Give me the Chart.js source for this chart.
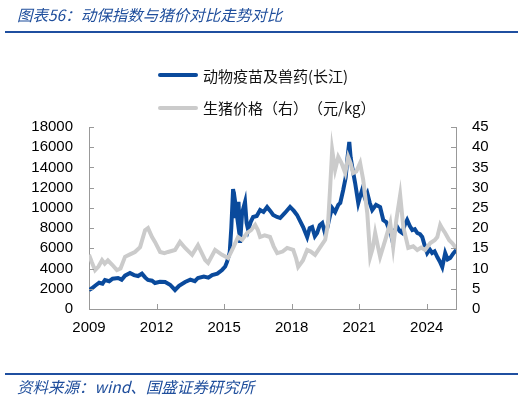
<!DOCTYPE html>
<html>
<head>
<meta charset="utf-8">
<script src="https://cdn.jsdelivr.net/npm/chart.js@4"></script>
<style>
  html, body { margin: 0; padding: 0; background: #fff; }
  #wrap { position: relative; width: 525px; height: 399px; overflow: hidden; }
  #myChart { position: absolute; left: 0; top: 0; }
  .cap { position: absolute; left: 17px; font-family: "Noto Sans CJK SC", sans-serif; font-style: italic; font-size: 15.5px; color: #1f4e9c; white-space: nowrap; }
  .rule { position: absolute; left: 5px; width: 513px; background: #1f4fa0; }
  #legend { position: absolute; left: 158px; top: 64px; font-family: "Noto Sans CJK SC", sans-serif; font-size: 15px; color: #111; text-spacing-trim: space-all; }
  #legend div { display: flex; align-items: center; height: 22px; margin-bottom: 10.5px; white-space: nowrap; }
  #legend span.swatch { display: inline-block; width: 40px; height: 4px; margin-right: 5px; border-radius: 2px; }
</style>
</head>
<body>
<div id="wrap">
  <canvas id="myChart" width="525" height="399"></canvas>
  <div class="cap" style="top:3px">图表56：动保指数与猪价对比走势对比</div>
  <div class="rule" style="top:31px;height:2px"></div>
  <div id="legend"></div>
  <div class="rule" style="top:373px;height:2px"></div>
  <div class="cap" style="top:375px">资料来源：wind、国盛证券研究所</div>
</div>
<script>
const xTicks = [2009, 2012, 2015, 2018, 2021, 2024];
const leftTicks = [0, 2000, 4000, 6000, 8000, 10000, 12000, 14000, 16000, 18000];
const rightTicks = [0, 5, 10, 15, 20, 25, 30, 35, 40, 45];

const blueLabel = "动物疫苗及兽药(长江)";
const blueYears = [
  2009.00, 2009.13, 2009.27, 2009.45, 2009.60, 2009.71, 2009.90, 2010.05, 2010.29, 2010.45,
  2010.60, 2010.82, 2011.00, 2011.18, 2011.35, 2011.50, 2011.62, 2011.80, 2011.93, 2012.15,
  2012.38, 2012.60, 2012.82, 2013.00, 2013.27, 2013.50, 2013.70, 2013.84, 2014.10, 2014.30,
  2014.47, 2014.70, 2014.91, 2015.05, 2015.13, 2015.25, 2015.32, 2015.40, 2015.47, 2015.52,
  2015.58, 2015.64, 2015.71, 2015.80, 2015.93, 2016.00, 2016.07, 2016.18, 2016.29, 2016.45,
  2016.60, 2016.75, 2016.91, 2017.05, 2017.18, 2017.35, 2017.49, 2017.70, 2017.93, 2018.10,
  2018.24, 2018.40, 2018.51, 2018.69, 2018.80, 2018.91, 2019.03, 2019.13, 2019.25, 2019.36,
  2019.47, 2019.58, 2019.70, 2019.80, 2019.93, 2020.07, 2020.16, 2020.29, 2020.40, 2020.47,
  2020.56, 2020.62, 2020.69, 2020.82, 2020.96, 2021.05, 2021.13, 2021.25, 2021.36, 2021.47,
  2021.58, 2021.75, 2021.93, 2022.07, 2022.20, 2022.29, 2022.40, 2022.47, 2022.58, 2022.69,
  2022.80, 2022.91, 2023.02, 2023.13, 2023.25, 2023.36, 2023.47, 2023.58, 2023.70, 2023.80,
  2023.92, 2024.02, 2024.13, 2024.24, 2024.35, 2024.47, 2024.58, 2024.69, 2024.82, 2024.93,
  2025.04, 2025.18, 2025.31
];
const blueValues = [
  1880, 2050, 2300, 2600, 2500, 2870, 2750, 3000, 3070, 2900,
  3300, 3560, 3350, 3260, 3500, 3100, 2870, 2800, 2570, 2700,
  2670, 2400, 1880, 2300, 2670, 2900, 2750, 3070, 3200, 3100,
  3360, 3500, 3860, 4200, 4650, 5600, 8000, 11870, 9000, 10090,
  9100, 10600, 6530, 9500, 10580, 8500, 7810, 8600, 9100, 9200,
  9790, 9600, 10090, 9700, 9300, 9100, 9000, 9500, 10090, 9700,
  9300, 8600, 8110, 7120, 8000, 8110, 7200, 7520, 8300, 8500,
  7600, 8000, 9200, 9990, 9590, 10300, 10480, 11770, 13000, 14740,
  16520, 15000, 14040, 12460, 10480, 11200, 11770, 11000, 11470, 10500,
  9790, 10300, 10090, 8800, 8600, 8110, 7500, 6820, 7800, 8110,
  7700, 7520, 8300, 8800, 8200, 7810, 7900, 7520, 7400, 7120,
  6200, 5540, 5900, 5540, 5700, 5140, 4700, 4150, 5540, 4900,
  5040, 5500, 5830
];

const pigLabel = "生猪价格（右）（元/kg）";
const pigYears = [
  2009.00, 2009.13, 2009.27, 2009.42, 2009.58, 2009.70, 2009.84, 2010.02, 2010.24, 2010.40,
  2010.60, 2010.82, 2011.04, 2011.27, 2011.49, 2011.62, 2011.80, 2011.93, 2012.16, 2012.35,
  2012.51, 2012.82, 2013.04, 2013.27, 2013.58, 2013.84, 2014.16, 2014.29, 2014.60, 2014.91,
  2015.18, 2015.40, 2015.62, 2015.80, 2016.02, 2016.20, 2016.38, 2016.50, 2016.60, 2016.80,
  2017.04, 2017.20, 2017.36, 2017.60, 2017.80, 2018.07, 2018.20, 2018.29, 2018.50, 2018.69,
  2018.85, 2019.04, 2019.27, 2019.49, 2019.62, 2019.71, 2019.80, 2019.93, 2020.07, 2020.22,
  2020.38, 2020.51, 2020.62, 2020.73, 2020.87, 2021.04, 2021.18, 2021.36, 2021.49, 2021.60,
  2021.71, 2021.85, 2021.93, 2022.16, 2022.38, 2022.51, 2022.65, 2022.82, 2022.96, 2023.18,
  2023.40, 2023.58, 2023.75, 2023.93, 2024.16, 2024.35, 2024.47, 2024.60, 2024.70, 2024.82,
  2025.00, 2025.13, 2025.30
];
const pigValues = [
  13.4, 11.5, 9.6, 10.5, 12.1, 11.2, 12.0, 11.0, 9.6, 10.0,
  12.9, 13.5, 14.1, 15.3, 19.5, 20.0, 17.8, 16.6, 14.1, 13.8,
  14.1, 14.6, 16.6, 15.1, 13.4, 15.8, 12.1, 11.4, 14.6, 13.4,
  12.6, 15.1, 17.8, 17.1, 18.8, 19.5, 20.8, 19.5, 17.8, 18.2,
  17.8, 15.5, 13.8, 14.2, 15.1, 14.6, 12.5, 10.4, 12.0, 14.6,
  14.2, 13.4, 15.3, 17.1, 21.3, 30.0, 39.3, 34.4, 37.6, 36.0,
  33.6, 37.6, 36.0, 33.6, 34.0, 36.1, 31.9, 23.7, 12.9, 15.0,
  18.8, 15.0, 12.9, 17.1, 21.3, 15.3, 22.0, 28.2, 20.3, 15.1,
  15.5, 14.6, 15.2, 14.6, 16.3, 17.0, 17.8, 20.8, 19.8, 18.8,
  17.0, 16.3, 15.1
];

const blueColor = "#0a4a9c";
const grayColor = "#cbcbcb";
const axisColor = "#999999";
const tickFont = { family: "Liberation Sans", size: 15 };

const toPoints = (xs, ys) => xs.map((x, i) => ({ x: x, y: ys[i] }));

// tick marks pointing into the plot, like the original
const innerTicks = {
  id: "innerTicks",
  afterDraw(chart) {
    const { ctx, chartArea: a, scales } = chart;
    ctx.save();
    ctx.strokeStyle = axisColor;
    ctx.lineWidth = 1;
    ctx.beginPath();
    scales.y.ticks.forEach((t) => {
      const py = Math.round(scales.y.getPixelForValue(t.value)) + 0.5;
      ctx.moveTo(a.left, py);
      ctx.lineTo(a.left + 5, py);
    });
    scales.y1.ticks.forEach((t) => {
      const py = Math.round(scales.y1.getPixelForValue(t.value)) + 0.5;
      ctx.moveTo(a.right, py);
      ctx.lineTo(a.right - 5, py);
    });
    scales.x.ticks.forEach((t) => {
      const px = Math.round(scales.x.getPixelForValue(t.value)) + 0.5;
      ctx.moveTo(px, a.bottom);
      ctx.lineTo(px, a.bottom - 5);
    });
    ctx.stroke();
    ctx.restore();
  },
};

const chart = new Chart(document.getElementById("myChart"), {
  type: "line",
  data: {
    datasets: [
      {
        label: blueLabel,
        data: toPoints(blueYears, blueValues),
        borderColor: blueColor,
        backgroundColor: blueColor,
        borderWidth: 4,
        pointRadius: 0,
        tension: 0,
        yAxisID: "y",
        order: 1,
      },
      {
        label: pigLabel,
        data: toPoints(pigYears, pigValues),
        borderColor: grayColor,
        backgroundColor: grayColor,
        borderWidth: 4,
        pointRadius: 0,
        tension: 0,
        yAxisID: "y1",
        order: 0,
      },
    ],
  },
  options: {
    responsive: false,
    animation: false,
    layout: { padding: { top: 127, bottom: 60, left: 0, right: 0 } },
    plugins: { legend: { display: false }, tooltip: { enabled: false } },
    scales: {
      x: {
        type: "linear",
        min: 2009,
        max: 2025.3,
        afterBuildTicks: (s) => { s.ticks = xTicks.map((v) => ({ value: v })); },
        afterFit: (s) => { s.height = 30; },
        grid: { drawOnChartArea: false, drawTicks: false },
        border: { color: axisColor },
        ticks: { font: tickFont, color: "#000", padding: 10, maxRotation: 0, autoSkip: false, callback: (v) => String(v) },
      },
      y: {
        position: "left",
        min: 0,
        max: 18000,
        afterBuildTicks: (s) => { s.ticks = leftTicks.map((v) => ({ value: v })); },
        afterFit: (s) => { s.width = 89; },
        grid: { drawOnChartArea: false, drawTicks: false },
        border: { color: axisColor },
        ticks: { font: tickFont, color: "#000", padding: 16, autoSkip: false, callback: (v) => String(v) },
      },
      y1: {
        position: "right",
        min: 0,
        max: 45,
        afterBuildTicks: (s) => { s.ticks = rightTicks.map((v) => ({ value: v })); },
        afterFit: (s) => { s.width = 69; },
        grid: { drawOnChartArea: false, drawTicks: false },
        border: { color: axisColor },
        ticks: { font: tickFont, color: "#000", padding: 16, autoSkip: false, callback: (v) => String(v) },
      },
    },
  },
  plugins: [innerTicks],
});

// legend stacked in two rows, built from the datasets
const legendBox = document.getElementById("legend");
chart.data.datasets.forEach((ds) => {
  const row = document.createElement("div");
  const sw = document.createElement("span");
  sw.className = "swatch";
  sw.style.background = ds.borderColor;
  row.appendChild(sw);
  row.appendChild(document.createTextNode(ds.label));
  legendBox.appendChild(row);
});
</script>
</body>
</html>
